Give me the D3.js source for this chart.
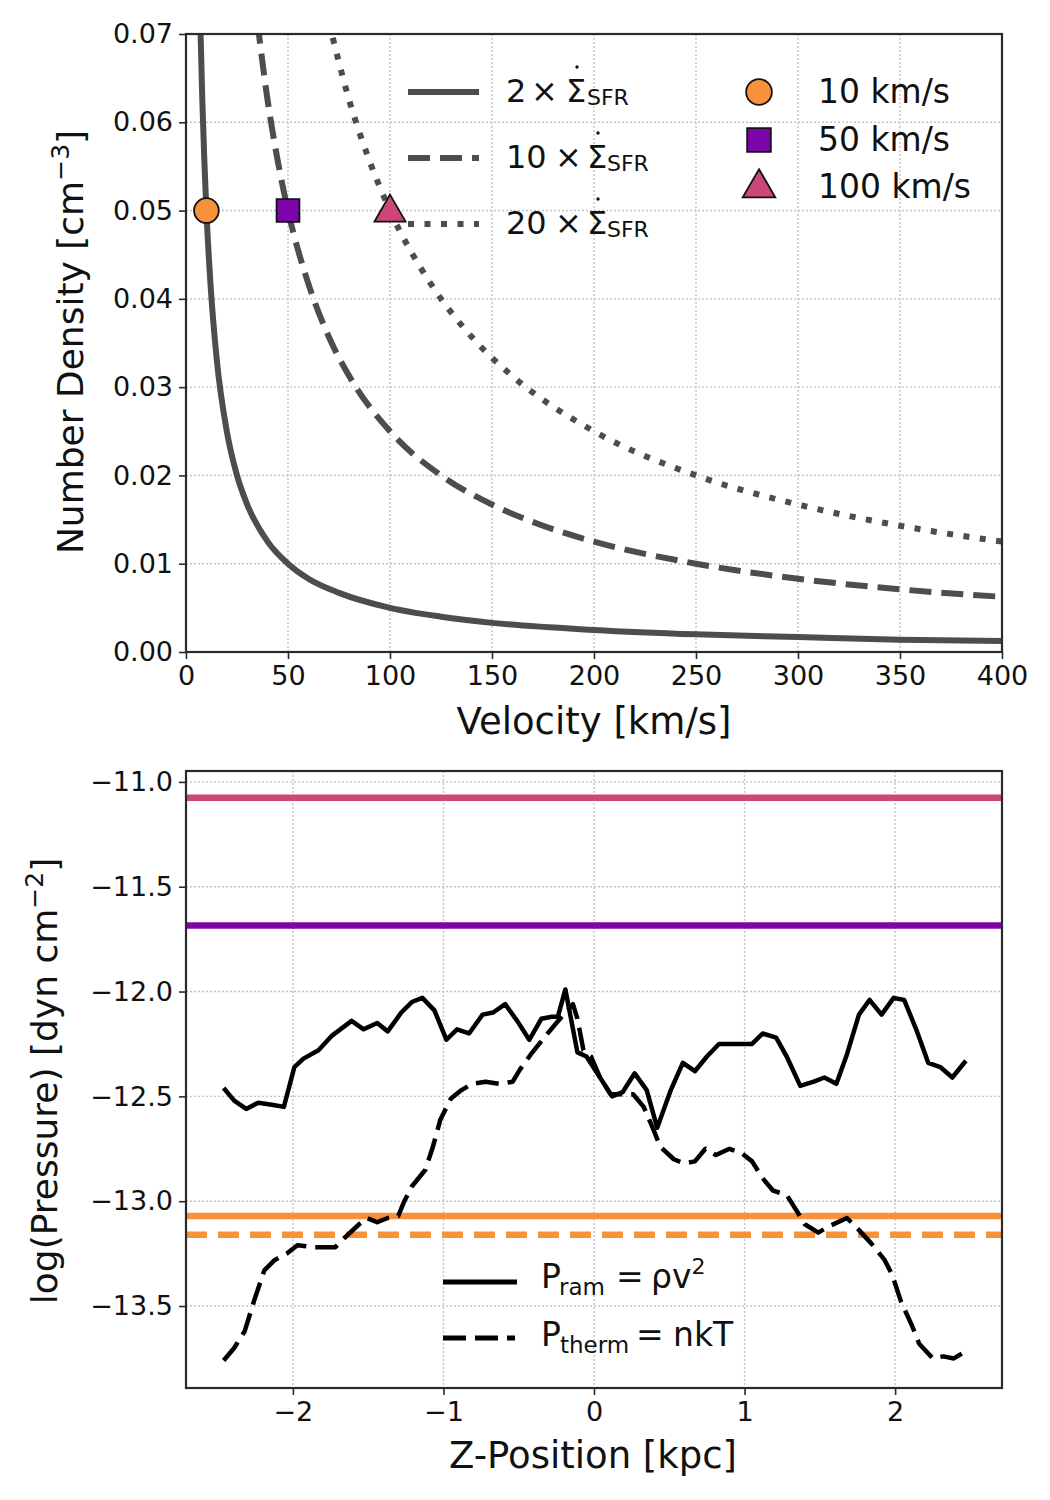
<!DOCTYPE html>
<html><head><meta charset="utf-8">
<script src="https://cdn.jsdelivr.net/npm/d3@7"></script>
<style>
body{margin:0;background:#fff;}
text{font-family:"DejaVu Sans",sans-serif;fill:#111;}
</style></head>
<body><svg id="c" width="1050" height="1500"></svg>
<script>
// ---------- Top panel data ----------
const vSolid = [7, 8, 9, 10, 12, 15, 20, 25, 30, 40, 50, 60, 75, 100, 125, 150, 200, 250, 300, 350, 400];
const nSolid = [0.0714, 0.0625, 0.0556, 0.05, 0.0417, 0.0333, 0.025, 0.02, 0.0167, 0.0125, 0.01, 0.0083, 0.0067, 0.005, 0.004, 0.0033, 0.0025, 0.002, 0.0017, 0.0014, 0.00125];
const vDashed = [35, 40, 45, 50, 60, 70, 80, 100, 125, 150, 175, 200, 250, 300, 350, 400];
const nDashed = [0.0714, 0.0625, 0.0556, 0.05, 0.0417, 0.0357, 0.03125, 0.025, 0.02, 0.0167, 0.0143, 0.0125, 0.01, 0.0083, 0.0071, 0.00625];
const vDotted = [70, 80, 90, 100, 120, 140, 160, 200, 250, 300, 350, 400];
const nDotted = [0.0714, 0.0625, 0.0556, 0.05, 0.0417, 0.0357, 0.03125, 0.025, 0.02, 0.0167, 0.0143, 0.0125];
const lineLabels = ["2", "10", "20"];
const markerVel = [10, 50, 100];
const markerDens = [0.05, 0.05, 0.05];
const markerLabels = ["10 km/s", "50 km/s", "100 km/s"];
const markerColors = ["#f7923b", "#7c04a8", "#cc4778"];
const topXTicks = [0, 50, 100, 150, 200, 250, 300, 350, 400];
const topYTicks = [0, 0.01, 0.02, 0.03, 0.04, 0.05, 0.06, 0.07];

// ---------- Bottom panel data ----------
const zRam = [-2.46,-2.39,-2.31,-2.23,-2.14,-2.06,-1.99,-1.93,-1.83,-1.74,-1.61,-1.53,-1.44,-1.37,-1.28,-1.21,-1.14,-1.06,-0.98,-0.91,-0.83,-0.74,-0.67,-0.59,-0.51,-0.43,-0.35,-0.28,-0.24,-0.19,-0.11,-0.05,0.04,0.12,0.19,0.27,0.35,0.42,0.51,0.59,0.67,0.75,0.83,0.91,1.05,1.12,1.21,1.28,1.37,1.46,1.53,1.61,1.68,1.76,1.83,1.91,1.99,2.06,2.14,2.22,2.30,2.38,2.47];
const pRam = [-12.46,-12.52,-12.56,-12.53,-12.54,-12.55,-12.36,-12.32,-12.28,-12.21,-12.14,-12.18,-12.15,-12.19,-12.10,-12.05,-12.03,-12.09,-12.23,-12.18,-12.20,-12.11,-12.10,-12.06,-12.14,-12.23,-12.13,-12.12,-12.12,-11.99,-12.29,-12.31,-12.41,-12.50,-12.48,-12.39,-12.47,-12.65,-12.47,-12.34,-12.38,-12.31,-12.25,-12.25,-12.25,-12.20,-12.22,-12.31,-12.45,-12.43,-12.41,-12.44,-12.30,-12.11,-12.04,-12.11,-12.03,-12.04,-12.18,-12.34,-12.36,-12.41,-12.33];
const zTherm = [-2.46,-2.39,-2.32,-2.26,-2.19,-2.12,-2.04,-1.97,-1.86,-1.72,-1.65,-1.56,-1.51,-1.44,-1.37,-1.30,-1.26,-1.21,-1.12,-1.07,-1.02,-0.95,-0.88,-0.81,-0.72,-0.63,-0.54,-0.49,-0.42,-0.32,-0.25,-0.19,-0.14,-0.11,-0.07,-0.02,0.04,0.11,0.18,0.26,0.33,0.39,0.44,0.53,0.60,0.67,0.74,0.81,0.90,0.98,1.05,1.12,1.19,1.28,1.35,1.40,1.49,1.56,1.68,1.75,1.84,1.93,1.98,2.04,2.11,2.16,2.25,2.32,2.39,2.46];
const pTherm = [-13.76,-13.70,-13.62,-13.48,-13.33,-13.28,-13.25,-13.21,-13.22,-13.22,-13.17,-13.11,-13.08,-13.10,-13.08,-13.07,-13.00,-12.93,-12.85,-12.74,-12.61,-12.51,-12.47,-12.44,-12.43,-12.44,-12.43,-12.37,-12.30,-12.21,-12.15,-12.10,-12.06,-12.13,-12.28,-12.31,-12.41,-12.49,-12.49,-12.49,-12.55,-12.65,-12.74,-12.80,-12.82,-12.81,-12.75,-12.78,-12.75,-12.77,-12.81,-12.89,-12.95,-12.97,-13.05,-13.11,-13.15,-13.12,-13.08,-13.13,-13.20,-13.28,-13.35,-13.48,-13.59,-13.68,-13.75,-13.74,-13.75,-13.72];
const hLineValues = [-11.075, -11.685, -13.07, -13.16];
const hLineColors = ["#cc4778", "#8104a8", "#f7923b", "#f7923b"];
const hLineDashed = [false, false, false, true];
const botXTicks = [-2, -1, 0, 1, 2];
const botYTicks = [-11.0, -11.5, -12.0, -12.5, -13.0, -13.5];

const svg = d3.select("#c");
const minus = s => s.replace(/-/g, "\u2212");
const gridColor = "#c4c4c4";
const frameColor = "#2a2a2a";

function frameAndGrid(g, x, y, xt, yt, L, T, R, B) {
  const gg = g.append("g");
  gg.selectAll(".gx").data(xt).join("line")
    .attr("x1", d => x(d)).attr("x2", d => x(d)).attr("y1", T).attr("y2", B)
    .attr("stroke", gridColor).attr("stroke-width", 1.4).attr("stroke-dasharray", "2,2");
  gg.selectAll(".gy").data(yt).join("line")
    .attr("y1", d => y(d)).attr("y2", d => y(d)).attr("x1", L).attr("x2", R)
    .attr("stroke", gridColor).attr("stroke-width", 1.4).attr("stroke-dasharray", "2,2");
}
function axesFrame(g, x, y, xt, yt, fx, fy, L, T, R, B) {
  const xa = d3.axisBottom(x).tickValues(xt).tickFormat(fx).tickSize(7).tickPadding(7);
  const ya = d3.axisLeft(y).tickValues(yt).tickFormat(fy).tickSize(7).tickPadding(6);
  const gx = g.append("g").attr("transform", `translate(0,${B})`).call(xa);
  const gy = g.append("g").attr("transform", `translate(${L},0)`).call(ya);
  [gx, gy].forEach(a => {
    a.select(".domain").remove();
    a.selectAll(".tick line").attr("stroke", frameColor).attr("stroke-width", 1.6);
    a.selectAll(".tick text").attr("font-size", 27).attr("fill", "#111")
      .style("font-family", "'DejaVu Sans', sans-serif");
  });
  g.append("rect").attr("x", L).attr("y", T).attr("width", R - L).attr("height", B - T)
    .attr("fill", "none").attr("stroke", frameColor).attr("stroke-width", 2.2);
}

// ================= TOP PANEL =================
{
  const L = 186, R = 1002, T = 34, B = 652;
  const x = d3.scaleLinear().domain([0, 400]).range([L, R]);
  const y = d3.scaleLinear().domain([0, 0.07]).range([B, T]);
  const g = svg.append("g");
  g.append("clipPath").attr("id", "clipTop").append("rect")
    .attr("x", L).attr("y", T).attr("width", R - L).attr("height", B - T);
  frameAndGrid(g, x, y, topXTicks, topYTicks, L, T, R, B);
  const line = d3.line().x(d => x(d[0])).y(d => y(d[1])).curve(d3.curveMonotoneX);
  const curveCol = "#4d4d4d";
  const styles = [null, "22,10", "6,10.5"];
  const series = [d3.zip(vSolid, nSolid), d3.zip(vDashed, nDashed), d3.zip(vDotted, nDotted)];
  const cg = g.append("g").attr("clip-path", "url(#clipTop)");
  series.forEach((s, i) => {
    cg.append("path").datum(s).attr("d", line).attr("fill", "none")
      .attr("stroke", curveCol).attr("stroke-width", 6)
      .attr("stroke-dasharray", styles[i]);
  });
  const mk = [d3.symbolCircle, d3.symbolSquare, d3.symbolTriangle];
  const mkSize = [480, 520, 420];
  markerVel.forEach((v, i) => {
    g.append("path").attr("d", d3.symbol().type(mk[i]).size(mkSize[i])())
      .attr("transform", `translate(${x(v)},${y(markerDens[i]) + (i === 2 ? 2 : 0)})`)
      .attr("fill", markerColors[i]).attr("stroke", "#111").attr("stroke-width", 1.8);
  });
  axesFrame(g, x, y, topXTicks, topYTicks, d3.format("d"), d3.format(".2f"), L, T, R, B);
  // legend lines
  const ly = [92, 158, 224], ty = [102, 168, 234];
  const xTimes = [531, 555, 555], xSig = [566, 587, 587], xSub = [587, 607, 607];
  lineLabels.forEach((lab, i) => {
    g.append("line").attr("x1", 408).attr("x2", 479).attr("y1", ly[i]).attr("y2", ly[i])
      .attr("stroke", curveCol).attr("stroke-width", 6).attr("stroke-dasharray", styles[i]);
    const t = g.append("text").attr("y", ty[i]).attr("font-size", 32);
    t.append("tspan").attr("x", 506).text(lab);
    t.append("tspan").attr("x", xTimes[i]).text("\u00d7");
    t.append("tspan").attr("x", xSig[i]).text("\u03a3");
    t.append("tspan").attr("x", xSub[i]).attr("dy", 3).attr("font-size", 22).text("SFR");
    g.append("circle").attr("cx", xSig[i] + 11).attr("cy", ty[i] - 35).attr("r", 1.7).attr("fill", "#111");
  });
  // marker legend
  const my = [92, 140, 188], mty = [103, 151, 198];
  markerLabels.forEach((lab, i) => {
    g.append("path").attr("d", d3.symbol().type(mk[i]).size(mkSize[i] + 40)())
      .attr("transform", `translate(759,${my[i]})`)
      .attr("fill", markerColors[i]).attr("stroke", "#111").attr("stroke-width", 1.8);
    g.append("text").attr("x", 818).attr("y", mty[i]).attr("font-size", 33).text(lab);
  });
  g.append("text").attr("x", 594).attr("y", 734).attr("text-anchor", "middle")
    .attr("font-size", 37).text("Velocity [km/s]");
  const yl = g.append("text").attr("transform", "translate(83,342) rotate(-90)")
    .attr("text-anchor", "middle").attr("font-size", 36);
  yl.append("tspan").text("Number Density [cm");
  yl.append("tspan").attr("dy", -14).attr("font-size", 25).text("\u22123");
  yl.append("tspan").attr("dy", 14).text("]");
}

// ================= BOTTOM PANEL =================
{
  const L = 186, R = 1002, T = 771, B = 1388;
  const x = d3.scaleLinear().domain([-2.71, 2.71]).range([L, R]);
  const y = d3.scaleLinear().domain([-13.891, -10.948]).range([B, T]);
  const g = svg.append("g");
  g.append("clipPath").attr("id", "clipBot").append("rect")
    .attr("x", L).attr("y", T).attr("width", R - L).attr("height", B - T);
  frameAndGrid(g, x, y, botXTicks, botYTicks, L, T, R, B);
  const cg = g.append("g").attr("clip-path", "url(#clipBot)");
  hLineValues.forEach((v, i) => {
    cg.append("line").attr("x1", L).attr("x2", R).attr("y1", y(v)).attr("y2", y(v))
      .attr("stroke", hLineColors[i]).attr("stroke-width", 6.5)
      .attr("stroke-dasharray", hLineDashed[i] ? "21,11" : null);
  });
  const line = d3.line().x(d => x(d[0])).y(d => y(d[1]));
  cg.append("path").datum(d3.zip(zTherm, pTherm)).attr("d", line).attr("fill", "none")
    .attr("stroke", "#000").attr("stroke-width", 4.5).attr("stroke-dasharray", "23,9")
    .attr("stroke-linejoin", "round");
  cg.append("path").datum(d3.zip(zRam, pRam)).attr("d", line).attr("fill", "none")
    .attr("stroke", "#000").attr("stroke-width", 4.5).attr("stroke-linejoin", "round");
  axesFrame(g, x, y, botXTicks, botYTicks, d => minus(d3.format("d")(d)), d => minus(d3.format(".1f")(d)), L, T, R, B);
  // legend
  g.append("line").attr("x1", 443).attr("x2", 517).attr("y1", 1282).attr("y2", 1282)
    .attr("stroke", "#000").attr("stroke-width", 5);
  g.append("line").attr("x1", 443).attr("x2", 515).attr("y1", 1338).attr("y2", 1338)
    .attr("stroke", "#000").attr("stroke-width", 5).attr("stroke-dasharray", "23,9");
  const t1 = g.append("text").attr("y", 1288).attr("font-size", 33);
  t1.append("tspan").attr("x", 541).text("P");
  t1.append("tspan").attr("x", 559).attr("dy", 7).attr("font-size", 23).text("ram");
  t1.append("tspan").attr("x", 616).attr("dy", -7).text("=");
  t1.append("tspan").attr("x", 651).text("\u03c1v");
  t1.append("tspan").attr("dy", -14).attr("font-size", 22).text("2");
  const t2 = g.append("text").attr("y", 1346).attr("font-size", 33);
  t2.append("tspan").attr("x", 541).text("P");
  t2.append("tspan").attr("x", 560).attr("dy", 7).attr("font-size", 23).text("therm");
  t2.append("tspan").attr("x", 636).attr("dy", -7).text("=");
  t2.append("tspan").attr("x", 673).text("nkT");
  g.append("text").attr("x", 593).attr("y", 1468).attr("text-anchor", "middle")
    .attr("font-size", 37).text("Z-Position [kpc]");
  const yl = g.append("text").attr("transform", "translate(57,1081) rotate(-90)")
    .attr("text-anchor", "middle").attr("font-size", 36);
  yl.append("tspan").text("log(Pressure) [dyn cm");
  yl.append("tspan").attr("dy", -14).attr("font-size", 25).text("\u22122");
  yl.append("tspan").attr("dy", 14).text("]");
}
</script></body></html>
